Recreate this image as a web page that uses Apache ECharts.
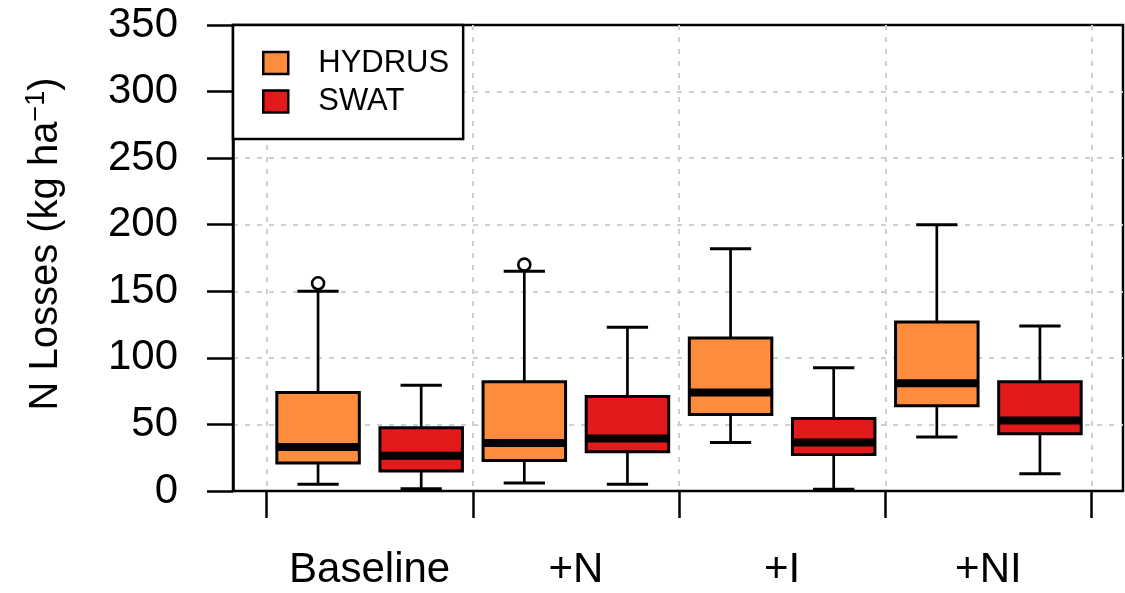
<!DOCTYPE html>
<html>
<head>
<meta charset="utf-8">
<script src="https://cdn.jsdelivr.net/npm/echarts@6/dist/echarts.min.js"></script>
<style>
  html, body { margin: 0; padding: 0; background: #fff; }
  #chart { width: 1125px; height: 593px; }
</style>
</head>
<body>
<div id="chart"></div>
<script>
// Scenario groups on the x axis
const categories = ['Baseline', '+N', '+I', '+NI'];
// Box statistics per scenario: [lower whisker, Q1, median, Q3, upper whisker] (kg ha-1)
const hydrusStats = [
  [5, 21, 33, 74, 150],
  [6, 23, 36, 82, 165],
  [36.5, 57.5, 74, 115, 182],
  [40.5, 64, 81, 127, 200]
];
const swatStats = [
  [1.7, 15, 26.5, 47.5, 79.5],
  [5, 29.5, 39.5, 71, 123],
  [1.3, 27.5, 36.5, 54.5, 92.5],
  [13, 43, 53, 82, 124]
];
// Outlying values: [scenario index, value]
const hydrusOutliers = [[0, 156], [1, 170]];
const swatOutliers = [];
// Value axis ticks
const yMin = 0, yMax = 350, yStep = 50;

const FONT = "'Liberation Sans', Arial, sans-serif";
const HYDRUS_COLOR = '#FD8D3C';
const SWAT_COLOR = '#E31A1C';

function toRows(stats) {
  return stats.map((s, i) => [i].concat(s));
}

// side: -1 draws in the left half of the band, +1 in the right half
function boxRenderer(side) {
  return function (params, api) {
    const cat = api.value(0);
    const band = api.size([1, 0])[0];
    const cx = api.coord([cat, 0])[0] + side * band / 4;
    const half = band * 0.2;
    const cap = band * 0.1;
    const yLow = api.coord([cat, api.value(1)])[1];
    const yQ1 = api.coord([cat, api.value(2)])[1];
    const yMed = api.coord([cat, api.value(3)])[1];
    const yQ3 = api.coord([cat, api.value(4)])[1];
    const yHigh = api.coord([cat, api.value(5)])[1];
    const stroke = { stroke: '#000', lineWidth: 2.7 };
    return {
      type: 'group',
      children: [
        { type: 'line', shape: { x1: cx, y1: yQ3, x2: cx, y2: yHigh }, style: stroke },
        { type: 'line', shape: { x1: cx, y1: yQ1, x2: cx, y2: yLow }, style: stroke },
        { type: 'line', shape: { x1: cx - cap, y1: yHigh, x2: cx + cap, y2: yHigh }, style: { stroke: '#000', lineWidth: 3 } },
        { type: 'line', shape: { x1: cx - cap, y1: yLow, x2: cx + cap, y2: yLow }, style: { stroke: '#000', lineWidth: 3 } },
        { type: 'rect', shape: { x: cx - half, y: yQ3, width: 2 * half, height: yQ1 - yQ3 },
          style: { fill: api.visual('color'), stroke: '#000', lineWidth: 3 } },
        { type: 'line', shape: { x1: cx - half, y1: yMed, x2: cx + half, y2: yMed },
          style: { stroke: '#000', lineWidth: 8, lineCap: 'butt' } }
      ]
    };
  };
}

function outlierRenderer(side) {
  return function (params, api) {
    const cat = api.value(0);
    const band = api.size([1, 0])[0];
    const pt = api.coord([cat, api.value(1)]);
    return {
      type: 'circle',
      shape: { cx: pt[0] + side * band / 4, cy: pt[1], r: 6 },
      style: { fill: '#fff', stroke: '#000', lineWidth: 2.6 }
    };
  };
}

const chart = echarts.init(document.getElementById('chart'), null, { renderer: 'canvas' });

const option = {
  animation: false,
  backgroundColor: '#fff',
  textStyle: { fontFamily: FONT },
  grid: [
    // outer frame holding the value axis and horizontal guides
    { left: 233, right: 2, top: 25, bottom: 102, show: true, borderColor: '#000', borderWidth: 2.5, backgroundColor: 'transparent', outerBoundsMode: 'none' },
    // inner region holding the scenario bands
    { left: 266.5, right: 33.5, top: 25, bottom: 102, outerBoundsMode: 'none' }
  ],
  xAxis: [
    { gridIndex: 0, type: 'value', min: 0, max: 1, show: false },
    {
      gridIndex: 1, type: 'category', data: categories, boundaryGap: true,
      axisLine: { show: false },
      axisTick: { show: true, inside: false, interval: 0, length: 27, lineStyle: { color: '#000', width: 2.5 } },
      axisLabel: { fontSize: 42, color: '#000', margin: 58, interval: 0, hideOverlap: false, fontFamily: FONT },
      splitLine: { show: true, interval: 0, lineStyle: { color: '#cfcfcf', width: 2, type: [5, 7] } }
    }
  ],
  yAxis: [
    {
      gridIndex: 0, type: 'value', min: yMin, max: yMax, interval: yStep,
      name: '{m|N Losses (kg ha}{s|−1}{m|)}',
      nameLocation: 'middle', nameRotate: 90, nameGap: 164, nameMoveOverlap: false,
      nameTextStyle: {
        padding: [0, 0, 0, 28],
        rich: {
          m: { fontSize: 40, lineHeight: 46, color: '#000', fontFamily: FONT },
          s: { fontSize: 27, lineHeight: 27, verticalAlign: 'top', color: '#000', fontFamily: FONT }
        }
      },
      axisLine: { show: true, lineStyle: { color: '#000', width: 2.5 } },
      axisTick: { show: true, inside: false, length: 26, lineStyle: { color: '#000', width: 2.5 } },
      axisLabel: { fontSize: 42, color: '#000', margin: 55, fontFamily: FONT },
      splitLine: { show: true, showMinLine: false, showMaxLine: false, lineStyle: { color: '#cfcfcf', width: 2, type: [5, 7] } }
    },
    { gridIndex: 1, type: 'value', min: yMin, max: yMax, show: false }
  ],
  legend: {
    orient: 'vertical',
    left: 233, top: 25,
    padding: [22.5, 14, 22, 29],
    itemWidth: 25, itemHeight: 22, itemGap: 7.5,
    borderColor: '#000', borderWidth: 2.5, backgroundColor: '#fff',
    selectedMode: false,
    textStyle: { fontSize: 31, lineHeight: 31, color: '#000', fontFamily: FONT, padding: [0, 0, 0, 25] },
    data: [
      { name: 'HYDRUS', icon: 'rect', itemStyle: { color: HYDRUS_COLOR, borderColor: '#000', borderWidth: 2.5 } },
      { name: 'SWAT', icon: 'rect', itemStyle: { color: SWAT_COLOR, borderColor: '#000', borderWidth: 2.5 } }
    ]
  },
  series: [
    {
      name: 'HYDRUS', type: 'custom', xAxisIndex: 1, yAxisIndex: 1,
      itemStyle: { color: HYDRUS_COLOR },
      encode: { x: 0, y: [1, 2, 3, 4, 5] },
      data: toRows(hydrusStats),
      renderItem: boxRenderer(-1), z: 3
    },
    {
      name: 'SWAT', type: 'custom', xAxisIndex: 1, yAxisIndex: 1,
      itemStyle: { color: SWAT_COLOR },
      encode: { x: 0, y: [1, 2, 3, 4, 5] },
      data: toRows(swatStats),
      renderItem: boxRenderer(1), z: 3
    },
    {
      name: 'HYDRUS outliers', type: 'custom', xAxisIndex: 1, yAxisIndex: 1,
      encode: { x: 0, y: 1 },
      data: hydrusOutliers,
      renderItem: outlierRenderer(-1), z: 4
    },
    {
      name: 'SWAT outliers', type: 'custom', xAxisIndex: 1, yAxisIndex: 1,
      encode: { x: 0, y: 1 },
      data: swatOutliers,
      renderItem: outlierRenderer(1), z: 4
    }
  ]
};

chart.setOption(option);
</script>
</body>
</html>
